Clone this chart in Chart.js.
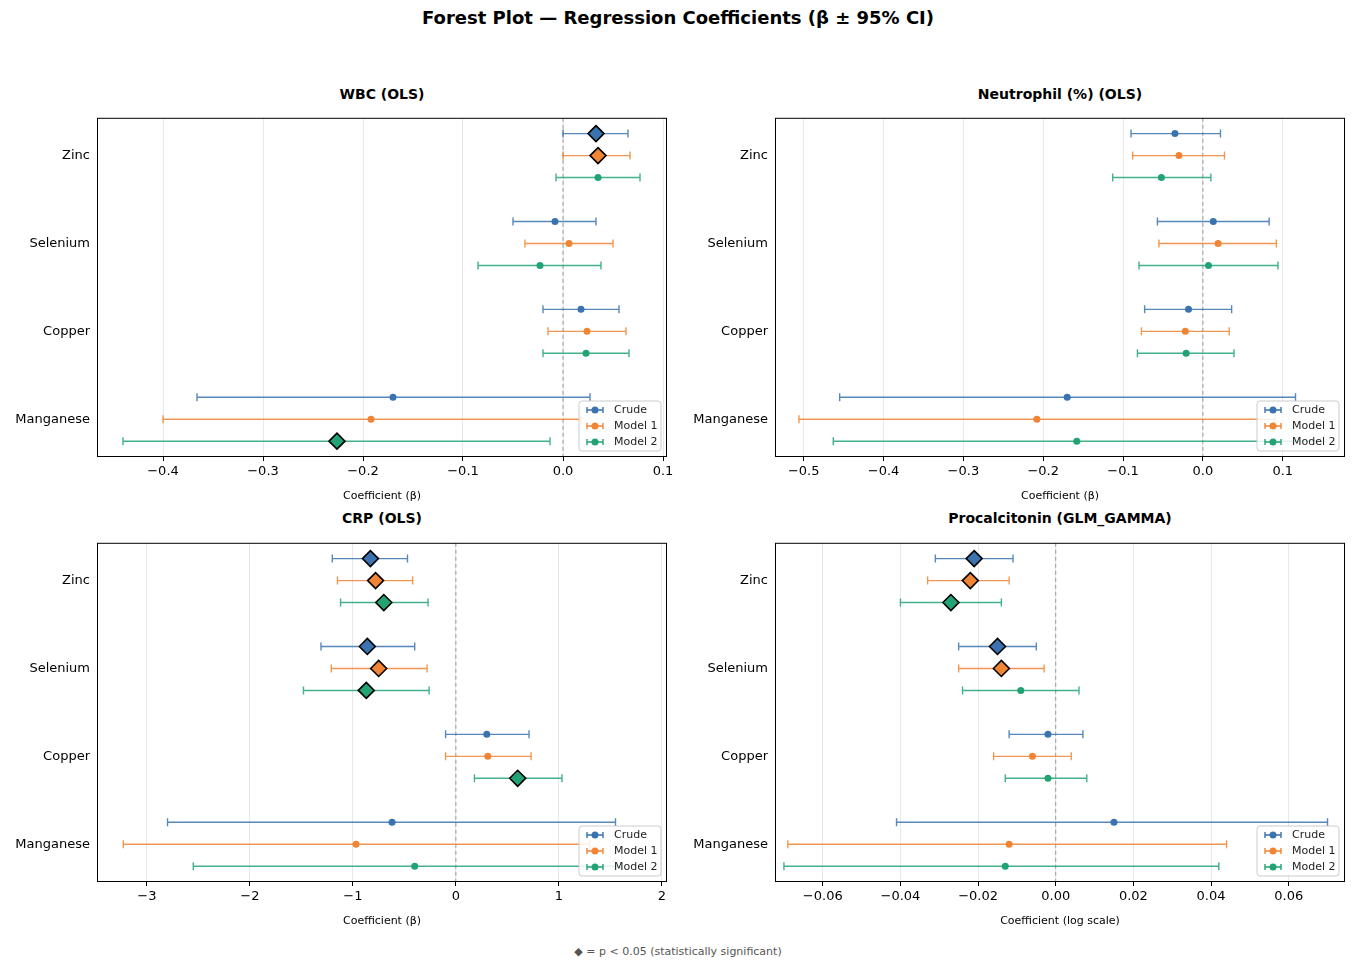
<!DOCTYPE html>
<html><head><meta charset="utf-8">
<script src="https://cdn.jsdelivr.net/npm/chart.js@4.4.0/dist/chart.umd.min.js"></script>
<style>
body{margin:0;background:#fff;font-family:"DejaVu Sans",sans-serif;width:1360px;height:971px;position:relative;overflow:hidden}
.box{position:absolute;width:680px;height:400px}
.ttl{position:absolute;width:570px;text-align:center;font-weight:bold;font-size:14px}
</style></head><body>
<div style="position:absolute;top:7px;left:0;width:1356px;text-align:center;font-weight:bold;font-size:18px">Forest Plot — Regression Coefficients (β ± 95% CI)</div>
<div class="ttl" style="left:97px;top:86px">WBC (OLS)</div>
<div class="ttl" style="left:775px;top:86px">Neutrophil (%) (OLS)</div>
<div class="ttl" style="left:97px;top:510px">CRP (OLS)</div>
<div class="ttl" style="left:775px;top:510px">Procalcitonin (GLM_GAMMA)</div>
<div class="box" style="left:0;top:107px"><canvas id="c0"></canvas></div>
<div class="box" style="left:678px;top:107px"><canvas id="c1"></canvas></div>
<div class="box" style="left:0;top:532px"><canvas id="c2"></canvas></div>
<div class="box" style="left:678px;top:532px"><canvas id="c3"></canvas></div>
<div style="position:absolute;top:945px;left:0;width:1356px;text-align:center;font-size:11px;color:#555">◆ = p &lt; 0.05 (statistically significant)</div>
<script>
const exposures = ["Zinc", "Selenium", "Copper", "Manganese"];
const models = ["Crude", "Model 1", "Model 2"];
const colors = ["#3a73b0", "#ef8535", "#22a374"];

// per panel: [exposure][model] = beta, lo, hi, sig
const wbcBeta = [[0.033,0.035,0.035],[-0.008,0.006,-0.023],[0.018,0.024,0.023],[-0.170,-0.192,-0.226]];
const wbcLo   = [[0.000,0.000,-0.007],[-0.050,-0.038,-0.085],[-0.020,-0.015,-0.020],[-0.366,-0.400,-0.440]];
const wbcHi   = [[0.065,0.067,0.077],[0.033,0.050,0.038],[0.056,0.063,0.066],[0.027,0.018,-0.013]];
const wbcSig  = [[1,1,0],[0,0,0],[0,0,0],[0,0,1]];

const neuBeta = [[-0.035,-0.030,-0.052],[0.013,0.019,0.007],[-0.018,-0.022,-0.021],[-0.170,-0.208,-0.158]];
const neuLo   = [[-0.090,-0.088,-0.113],[-0.057,-0.055,-0.080],[-0.073,-0.077,-0.082],[-0.455,-0.506,-0.463]];
const neuHi   = [[0.022,0.027,0.010],[0.083,0.092,0.094],[0.036,0.033,0.039],[0.116,0.090,0.148]];
const neuSig  = [[0,0,0],[0,0,0],[0,0,0],[0,0,0]];

const crpBeta = [[-0.83,-0.78,-0.70],[-0.86,-0.75,-0.87],[0.30,0.31,0.60],[-0.62,-0.97,-0.40]];
const crpLo   = [[-1.20,-1.15,-1.12],[-1.31,-1.21,-1.48],[-0.10,-0.10,0.18],[-2.80,-3.23,-2.55]];
const crpHi   = [[-0.47,-0.42,-0.27],[-0.40,-0.28,-0.26],[0.71,0.73,1.03],[1.55,1.30,1.60]];
const crpSig  = [[1,1,1],[1,1,1],[0,0,1],[0,0,0]];

const pctBeta = [[-0.021,-0.022,-0.027],[-0.015,-0.014,-0.009],[-0.002,-0.006,-0.002],[0.015,-0.012,-0.013]];
const pctLo   = [[-0.031,-0.033,-0.040],[-0.025,-0.025,-0.024],[-0.012,-0.016,-0.013],[-0.041,-0.069,-0.070]];
const pctHi   = [[-0.011,-0.012,-0.014],[-0.005,-0.003,0.006],[0.007,0.004,0.008],[0.070,0.044,0.042]];
const pctSig  = [[1,1,1],[1,1,0],[0,0,0],[0,0,0]];

const wbcTicks = [-0.4,-0.3,-0.2,-0.1,0,0.1];
const wbcTickLabels = ["−0.4","−0.3","−0.2","−0.1","0.0","0.1"];
const neuTicks = [-0.5,-0.4,-0.3,-0.2,-0.1,0,0.1];
const neuTickLabels = ["−0.5","−0.4","−0.3","−0.2","−0.1","0.0","0.1"];
const crpTicks = [-3,-2,-1,0,1,2];
const crpTickLabels = ["−3","−2","−1","0","1","2"];
const pctTicks = [-0.06,-0.04,-0.02,0,0.02,0.04,0.06];
const pctTickLabels = ["−0.06","−0.04","−0.02","0.00","0.02","0.04","0.06"];

const rowY = [3, 2, 1, 0];
const offs = [0.25, 0, -0.25];

const panels = [
  {id:"c0", b:wbcBeta, lo:wbcLo, hi:wbcHi, sig:wbcSig, ticks:wbcTicks, labels:wbcTickLabels, min:-0.466, max:0.104, xt:"Coefficient (β)"},
  {id:"c1", b:neuBeta, lo:neuLo, hi:neuHi, sig:neuSig, ticks:neuTicks, labels:neuTickLabels, min:-0.536, max:0.178, xt:"Coefficient (β)"},
  {id:"c2", b:crpBeta, lo:crpLo, hi:crpHi, sig:crpSig, ticks:crpTicks, labels:crpTickLabels, min:-3.485, max:2.05, xt:"Coefficient (β)"},
  {id:"c3", b:pctBeta, lo:pctLo, hi:pctHi, sig:pctSig, ticks:pctTicks, labels:pctTickLabels, min:-0.0723, max:0.0745, xt:"Coefficient (log scale)"}
];

const forest = {
  id: "forest",
  beforeDatasetsDraw(chart) {
    const {ctx, chartArea:a, scales:{x, y}} = chart;
    const p = chart.options.plugins.forest;
    ctx.save();
    ctx.beginPath(); ctx.rect(a.left, a.top, a.right - a.left, a.bottom - a.top); ctx.clip();
    ctx.setLineDash([4, 3]); ctx.strokeStyle = "#999"; ctx.lineWidth = 1;
    ctx.beginPath(); ctx.moveTo(x.getPixelForValue(0), a.top); ctx.lineTo(x.getPixelForValue(0), a.bottom); ctx.stroke();
    ctx.setLineDash([]);
    ctx.lineWidth = 1.4;
    exposures.forEach((e, i) => models.forEach((m, j) => {
      const py = y.getPixelForValue(rowY[i] + offs[j]);
      const x1 = x.getPixelForValue(p.lo[i][j]), x2 = x.getPixelForValue(p.hi[i][j]);
      ctx.strokeStyle = colors[j]; ctx.globalAlpha = 0.85;
      ctx.beginPath();
      ctx.moveTo(x1, py); ctx.lineTo(x2, py);
      ctx.moveTo(x1, py - 4); ctx.lineTo(x1, py + 4);
      ctx.moveTo(x2, py - 4); ctx.lineTo(x2, py + 4);
      ctx.stroke();
    }));
    ctx.restore();
  },
  afterDraw(chart) {
    const {ctx, chartArea:a} = chart;
    ctx.save();
    ctx.strokeStyle = "#000"; ctx.lineWidth = 1;
    ctx.strokeRect(a.left + 0.5, a.top + 0.5, a.right - a.left - 1, a.bottom - a.top - 1);
    // legend box
    const w = 82, h = 50, lx = a.right - w - 6, ly = a.bottom - h - 6;
    ctx.fillStyle = "rgba(255,255,255,0.85)"; ctx.strokeStyle = "#ccc";
    ctx.beginPath(); ctx.roundRect(lx, ly, w, h, 3); ctx.fill(); ctx.stroke();
    ctx.font = "11px 'DejaVu Sans'"; ctx.textBaseline = "middle";
    models.forEach((m, j) => {
      const yy = ly + 9 + j * 16;
      ctx.strokeStyle = colors[j]; ctx.lineWidth = 1.4;
      ctx.beginPath(); ctx.moveTo(lx + 8, yy); ctx.lineTo(lx + 24, yy);
      ctx.moveTo(lx + 8, yy - 3); ctx.lineTo(lx + 8, yy + 3); ctx.moveTo(lx + 24, yy - 3); ctx.lineTo(lx + 24, yy + 3); ctx.stroke();
      ctx.fillStyle = colors[j]; ctx.beginPath(); ctx.arc(lx + 16, yy, 3.5, 0, Math.PI * 2); ctx.fill();
      ctx.fillStyle = "#222"; ctx.fillText(m, lx + 35, yy);
    });
    ctx.restore();
  }
};

panels.forEach(p => {
  const datasets = models.map((m, j) => ({
    label: m,
    data: exposures.map((e, i) => ({x: p.b[i][j], y: rowY[i] + offs[j]})),
    backgroundColor: colors[j],
    borderColor: exposures.map((e, i) => p.sig[i][j] ? "#000" : colors[j]),
    borderWidth: exposures.map((e, i) => p.sig[i][j] ? 1.6 : 0),
    pointStyle: exposures.map((e, i) => p.sig[i][j] ? "rectRot" : "circle"),
    pointRadius: exposures.map((e, i) => p.sig[i][j] ? 8 : 3.5),
    clip: false
  }));
  new Chart(document.getElementById(p.id), {
    type: "scatter",
    data: { datasets },
    plugins: [forest],
    options: {
      responsive: true, maintainAspectRatio: false, animation: false,
      layout: { padding: { right: 13, top: 0 } },
      plugins: { legend: { display: false }, tooltip: { enabled: false }, forest: p },
      scales: {
        x: {
          min: p.min, max: p.max,
          afterBuildTicks: s => { s.ticks = p.ticks.map(v => ({value: v})); },
          afterFit: s => { s.height = 50; },
          ticks: { callback: v => p.labels[p.ticks.indexOf(v)] ?? "", color: "#000", font: {size: 13, family: "DejaVu Sans"}, maxRotation: 0, autoSkip: false },
          grid: { color: "#e8e8e8", tickColor: "#000", tickLength: 4 },
          border: { display: false },
          title: { display: true, text: p.xt, color: "#000", font: {size: 11, family: "DejaVu Sans"}, padding: {top: 0} }
        },
        y: {
          min: -0.43, max: 3.43,
          afterBuildTicks: s => { s.ticks = rowY.map(v => ({value: v})); },
          afterFit: s => { s.width = 97; },
          ticks: { callback: v => exposures[rowY.indexOf(v)] ?? "", color: "#000", font: {size: 13, family: "DejaVu Sans"} },
          grid: { display: false, tickColor: "#000", tickLength: 4 },
          border: { display: false }
        }
      }
    }
  });
});
</script>
</body></html>
